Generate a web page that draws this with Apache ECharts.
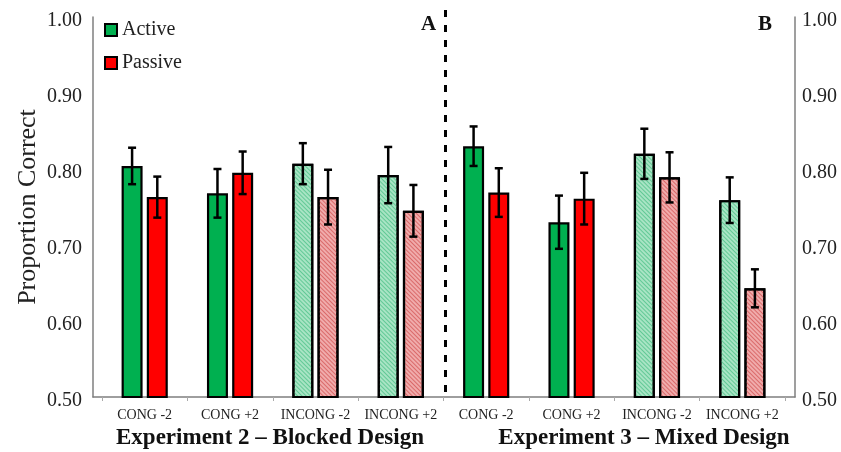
<!DOCTYPE html>
<html>
<head>
<meta charset="utf-8">
<script src="https://cdn.jsdelivr.net/npm/echarts@6/dist/echarts.min.js"></script>
<style>
  html, body { margin: 0; padding: 0; background: #fff; }
  #chart { width: 841px; height: 452px; }
</style>
</head>
<body>
<div id="chart"></div>
<script>
const categories = ['CONG -2', 'CONG +2', 'INCONG -2', 'INCONG +2', 'CONG -2', 'CONG +2', 'INCONG -2', 'INCONG +2'];
const activeMean = [0.804, 0.768, 0.807, 0.792, 0.830, 0.730, 0.820, 0.759];
const activeErr = [0.024, 0.032, 0.027, 0.037, 0.026, 0.035, 0.033, 0.030];
const passiveMean = [0.763, 0.795, 0.763, 0.745, 0.769, 0.761, 0.789, 0.643];
const passiveErr = [0.027, 0.028, 0.036, 0.034, 0.032, 0.034, 0.033, 0.025];
// incongruent conditions are drawn hatched
const hatched = [false, false, true, true, false, false, true, true];
const yTicks = [0.5, 0.6, 0.7, 0.8, 0.9, 1.0];
const groupTitles = ['Experiment 2 \u2013 Blocked Design', 'Experiment 3 \u2013 Mixed Design'];
const panelLetters = ['A', 'B'];

const FONT = 'Liberation Serif';
const AXIS_GRAY = '#7f7f7f';
const BAR_W = 21;
const BAR_OFFSET = 12.6; // half of (bar width + gap)

const GREEN = '#00b050';
const RED = '#ff0000';

function barData(means, solid, light, stripe) {
  return means.map((v, i) => {
    if (!hatched[i]) return { value: v, itemStyle: { color: solid } };
    return {
      value: v,
      itemStyle: {
        color: light,
        decal: {
          symbol: 'rect',
          symbolSize: 1,
          dashArrayX: [1, 0],
          dashArrayY: [1, 1.6],
          rotation: Math.PI / 4,
          color: stripe
        }
      }
    };
  });
}

function errRender(offset) {
  return function (params, api) {
    const idx = api.value(0);
    const mean = api.value(1);
    const err = api.value(2);
    const top = api.coord([idx, mean + err]);
    const bot = api.coord([idx, mean - err]);
    const x = top[0] + offset;
    const cap = 4;
    const style = { stroke: '#000', lineWidth: 2.5 };
    return {
      type: 'group',
      children: [
        { type: 'line', shape: { x1: x, y1: top[1], x2: x, y2: bot[1] }, style },
        { type: 'line', shape: { x1: x - cap, y1: top[1], x2: x + cap, y2: top[1] }, style },
        { type: 'line', shape: { x1: x - cap, y1: bot[1], x2: x + cap, y2: bot[1] }, style }
      ]
    };
  };
}

const yMin = yTicks[0];
const yMax = yTicks[yTicks.length - 1];
const yStep = yTicks[1] - yTicks[0];

// tick labels sit a few pixels under their tick, as in the original
const yLabel = (margin) => ({
  fontFamily: FONT, fontSize: 20, color: '#222', margin,
  formatter: (v) => '{v|' + v.toFixed(2) + '}',
  rich: { v: { fontFamily: FONT, fontSize: 20, color: '#222', padding: [8, 0, 0, 0] } }
});

const chart = echarts.init(document.getElementById('chart'), null, { renderer: 'canvas' });

const option = {
  animation: false,
  backgroundColor: '#fff',
  textStyle: { fontFamily: FONT },
  legend: {
    orient: 'vertical',
    left: 99,
    top: 15,
    itemWidth: 12,
    itemHeight: 12,
    itemGap: 13,
    icon: 'rect',
    data: ['Active', 'Passive'],
    itemStyle: { borderColor: '#000', borderWidth: 2 },
    textStyle: { fontFamily: FONT, fontSize: 20, color: '#222', lineHeight: 20 }
  },
  grid: [
    { left: 93, right: 46, top: 17, bottom: 55 },
    { left: 102, right: 56, top: 17, bottom: 55 }
  ],
  xAxis: [
    {
      type: 'category', gridIndex: 0, data: categories,
      axisLine: { show: true, onZero: false, lineStyle: { color: AXIS_GRAY, width: 1.5 } },
      axisTick: { show: false }, axisLabel: { show: false }
    },
    {
      type: 'category', gridIndex: 1, data: categories,
      axisLine: { show: false, onZero: false },
      axisTick: { show: true, length: 4, lineStyle: { color: '#aaa', width: 1 } },
      axisLabel: { fontFamily: FONT, fontSize: 14, color: '#222', margin: 11, interval: 0 }
    }
  ],
  yAxis: [
    {
      type: 'value', gridIndex: 0, position: 'left', min: yMin, max: yMax, interval: yStep,
      name: 'Proportion Correct', nameLocation: 'middle', nameGap: 52, nameMoveOverlap: false,
      nameTextStyle: { fontFamily: FONT, fontSize: 26, color: '#222' },
      axisLine: { show: true, lineStyle: { color: AXIS_GRAY, width: 1.5 } },
      axisTick: { show: false }, splitLine: { show: false },
      axisLabel: yLabel(11)
    },
    {
      type: 'value', gridIndex: 0, position: 'right', min: yMin, max: yMax, interval: yStep,
      axisLine: { show: true, lineStyle: { color: AXIS_GRAY, width: 1.5 } },
      axisTick: { show: false }, splitLine: { show: false },
      axisLabel: yLabel(7)
    },
    {
      type: 'value', gridIndex: 1, min: yMin, max: yMax, interval: yStep, show: false
    }
  ],
  series: [
    {
      name: 'Active', type: 'bar', xAxisIndex: 1, yAxisIndex: 2,
      barWidth: BAR_W, barGap: '20%',
      itemStyle: { color: GREEN, borderColor: '#000', borderWidth: 2.2 },
      data: barData(activeMean, GREEN, '#a8e4c4', '#62c996')
    },
    {
      name: 'Passive', type: 'bar', xAxisIndex: 1, yAxisIndex: 2,
      barWidth: BAR_W, barGap: '20%',
      itemStyle: { color: RED, borderColor: '#000', borderWidth: 2.2 },
      data: barData(passiveMean, RED, '#f0abab', '#da6a6a')
    },
    {
      type: 'custom', xAxisIndex: 1, yAxisIndex: 2, z: 5,
      renderItem: errRender(-BAR_OFFSET),
      data: activeMean.map((m, i) => [i, m, activeErr[i]])
    },
    {
      type: 'custom', xAxisIndex: 1, yAxisIndex: 2, z: 5,
      renderItem: errRender(BAR_OFFSET),
      data: passiveMean.map((m, i) => [i, m, passiveErr[i]])
    }
  ]
};

chart.setOption(option);

// separator between the two experiments, plus panel letters and group titles
const c3 = chart.convertToPixel({ xAxisIndex: 1 }, 3);
const c4 = chart.convertToPixel({ xAxisIndex: 1 }, 4);
const sepX = (c3 + c4) / 2 + 2;
const baseY = chart.convertToPixel({ yAxisIndex: 2 }, yMin);

chart.setOption({
  graphic: [
    {
      type: 'line', z: 10,
      shape: { x1: sepX, y1: 10, x2: sepX, y2: baseY },
      style: { stroke: '#000', lineWidth: 3, lineDash: [7, 8] }
    },
    {
      type: 'text', left: 421, top: 14,
      style: { text: panelLetters[0], font: 'bold 21px "Liberation Serif"', fill: '#111' }
    },
    {
      type: 'text', left: 758, top: 14,
      style: { text: panelLetters[1], font: 'bold 21px "Liberation Serif"', fill: '#111' }
    },
    {
      type: 'text', x: 270, y: 438,
      style: { text: groupTitles[0], font: 'bold 23px "Liberation Serif"', fill: '#111', align: 'center', verticalAlign: 'middle' }
    },
    {
      type: 'text', x: 644, y: 438,
      style: { text: groupTitles[1], font: 'bold 23px "Liberation Serif"', fill: '#111', align: 'center', verticalAlign: 'middle' }
    }
  ]
});
</script>
</body>
</html>
